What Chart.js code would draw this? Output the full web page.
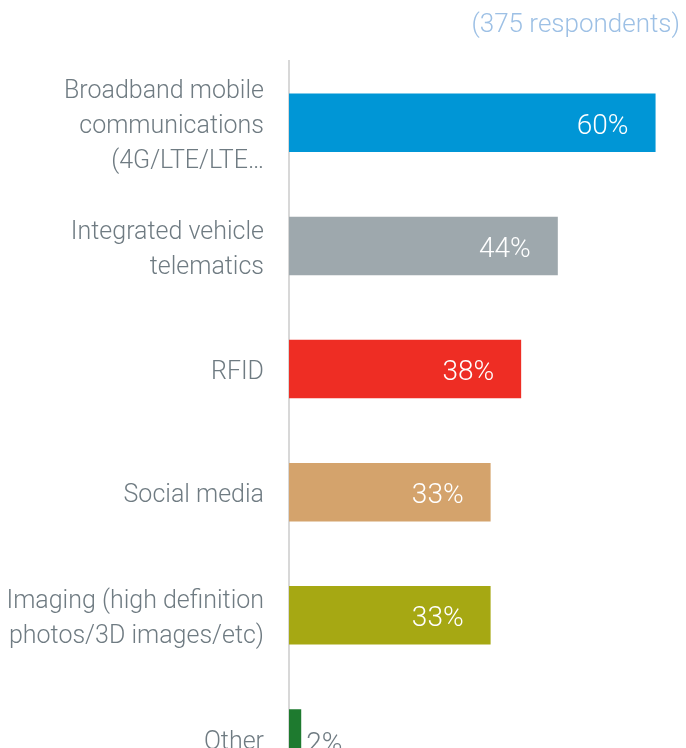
<!DOCTYPE html>
<html>
<head>
<meta charset="utf-8">
<script src="https://cdn.jsdelivr.net/npm/chart.js@4"></script>
<style>
  html, body { margin: 0; padding: 0; background: #fff; overflow: hidden; }
  canvas { display: block; }
</style>
</head>
<body>
<canvas id="techChart" width="686" height="800"></canvas>
<script>
// data
const categories = [
  ["Broadband mobile", "communications", "(4G/LTE/LTE\u2026"],
  ["Integrated vehicle", "telematics"],
  "RFID",
  "Social media",
  ["Imaging (high definition", "photos/3D images/etc)"],
  "Other"
];
const shares = [60, 44, 38, 33, 33, 2];
const barColors = ["#0096d6", "#9ea8ad", "#ee2d24", "#d4a36c", "#a6a813", "#1e7a2f"];
const respondentsNote = "(375 respondents)";

const FONT = "Roboto, 'Helvetica Neue', 'Liberation Sans', Arial, sans-serif";

// value labels: white inside the bar end, grey outside for small bars
const valueLabels = {
  id: "valueLabels",
  afterDatasetsDraw(chart) {
    const ctx = chart.ctx;
    const meta = chart.getDatasetMeta(0);
    ctx.save();
    ctx.font = "300 28px " + FONT;
    ctx.textBaseline = "middle";
    meta.data.forEach((bar, i) => {
      const v = shares[i];
      if (v > 5) {
        ctx.fillStyle = "#ffffff";
        ctx.textAlign = "right";
        ctx.fillText(v + "%", bar.x - 27, bar.y + 4);
      } else {
        ctx.fillStyle = "#6f7b82";
        ctx.textAlign = "left";
        ctx.fillText(v + "%", bar.x + 5, bar.y + 7);
      }
    });
    ctx.restore();
  }
};

new Chart(document.getElementById("techChart"), {
  type: "bar",
  data: {
    labels: categories,
    datasets: [{
      data: shares,
      backgroundColor: barColors,
      borderWidth: 0,
      barPercentage: 0.95,
      categoryPercentage: 0.5
    }]
  },
  options: {
    indexAxis: "y",
    responsive: false,
    animation: false,
    layout: { padding: { left: 0, right: 6, top: 0, bottom: 0 } },
    plugins: {
      legend: { display: false },
      tooltip: { enabled: false },
      title: {
        display: true,
        text: respondentsNote,
        align: "end",
        color: "#9dc0e5",
        font: { family: FONT, size: 26, weight: "300", lineHeight: 1.2 },
        padding: { top: 10, bottom: 20 }
      }
    },
    scales: {
      x: {
        display: false,
        min: 0,
        max: 64,
        grid: { display: false }
      },
      y: {
        grid: { display: false, drawTicks: false },
        border: { display: true, color: "#d8d8d8", width: 2 },
        ticks: {
          padding: 25,
          labelOffset: 4,
          color: "#6f7b82",
          font: { family: FONT, size: 25, weight: "300", lineHeight: 1.4 }
        },
        afterFit(scale) {
          // fixed label column; let the last row run past the bottom edge
          scale.width = 289;
          scale.paddingTop = 0;
          scale.paddingBottom = 0;
        }
      }
    }
  },
  plugins: [valueLabels]
});
</script>
</body>
</html>
